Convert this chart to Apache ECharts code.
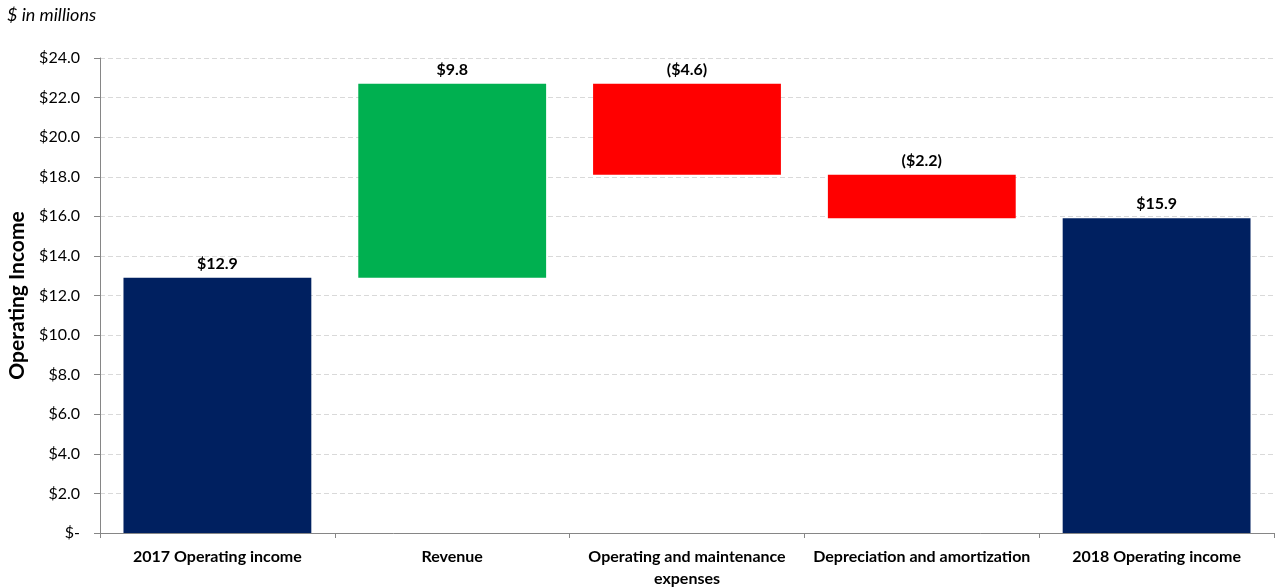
<!DOCTYPE html>
<html>
<head>
<meta charset="utf-8">
<script src="https://cdn.jsdelivr.net/npm/echarts@6/dist/echarts.min.js"></script>
<style>
html,body{margin:0;padding:0;background:#fff;}
#c{width:1282px;height:587px;}
</style>
</head>
<body>
<div id="c"></div>
<script>
var categories = ["2017 Operating income", "Revenue", "Operating and maintenance\nexpenses", "Depreciation and amortization", "2018 Operating income"];
var startTotal = 12.9;
var changes = [9.8, -4.6, -2.2];
var endTotal = 15.9;
var yTicks = [0, 2, 4, 6, 8, 10, 12, 14, 16, 18, 20, 22, 24];

var FONT = "Lato, 'Open Sans', sans-serif";
var NAVY = "#002060", GREEN = "#00B050", RED = "#FF0000";

var base = [0], heights = [startTotal], colors = [NAVY], labels = ["$" + startTotal.toFixed(1)];
var running = startTotal;
changes.forEach(function (d) {
  var next = running + d;
  base.push(Math.min(running, next));
  heights.push(Math.abs(d));
  colors.push(d >= 0 ? GREEN : RED);
  labels.push(d >= 0 ? "$" + d.toFixed(1) : "($" + Math.abs(d).toFixed(1) + ")");
  running = next;
});
base.push(0); heights.push(endTotal); colors.push(NAVY); labels.push("$" + endTotal.toFixed(1));

var chart = echarts.init(document.getElementById("c"), null, {renderer: "canvas"});
chart.setOption({
  animation: false,
  backgroundColor: "#fff",
  title: {
    text: "$ in millions", left: 2, top: 1,
    textStyle: {fontFamily: FONT, fontStyle: "italic", fontWeight: "normal", fontSize: 18, color: "#000"}
  },
  grid: {left: 100, right: 8, top: 58, bottom: 54, containLabel: false, outerBoundsMode: "none"},
  xAxis: {
    type: "category", data: categories,
    axisLine: {lineStyle: {color: "#868686", width: 1}},
    axisTick: {show: true, length: 5, lineStyle: {color: "#868686"}},
    axisLabel: {fontFamily: FONT, fontWeight: "bold", fontSize: 16, color: "#000", margin: 13, interval: 0, lineHeight: 22}
  },
  yAxis: {
    type: "value", min: 0, max: 24, interval: 2,
    name: "Operating Income", nameLocation: "middle", nameGap: 71, nameRotate: 90,
    nameTextStyle: {fontFamily: FONT, fontWeight: "bold", fontSize: 21, color: "#000"},
    axisLine: {show: true, lineStyle: {color: "#868686", width: 1}},
    axisTick: {show: true, length: 6, lineStyle: {color: "#868686"}},
    splitLine: {show: true, lineStyle: {color: "#d9d9d9", type: [5, 3]}},
    axisLabel: {
      fontFamily: FONT, fontSize: 16, color: "#000", margin: 20,
      formatter: function (v) { return v === 0 ? "$-" : "$" + v.toFixed(1); }
    }
  },
  series: [
    {
      type: "bar", stack: "w", data: base, barWidth: "80%",
      itemStyle: {color: "transparent"}, silent: true
    },
    {
      type: "bar", stack: "w", barWidth: "80%",
      data: heights.map(function (h, i) { return {value: h, itemStyle: {color: colors[i]}}; }),
      label: {
        show: true, position: "top", distance: 6,
        fontFamily: FONT, fontWeight: "bold", fontSize: 16, color: "#000",
        formatter: function (p) { return labels[p.dataIndex]; }
      }
    }
  ]
});
</script>
</body>
</html>
